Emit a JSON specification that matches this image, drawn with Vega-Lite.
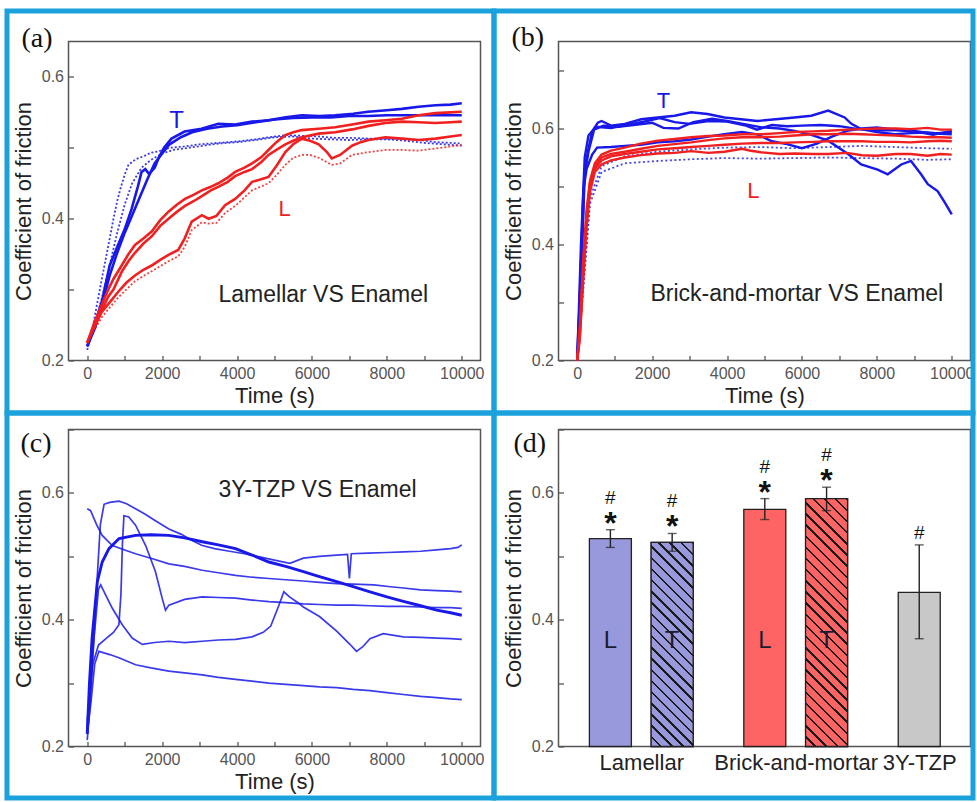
{
"$schema":"https://vega.github.io/schema/vega-lite/v6.json",
"background":"white",
"padding":{"left":3.5,"top":7.5,"right":0,"bottom":0},
"bounds":"flush",
"columns":2,
"spacing":{"row":69,"column":78},
"config":{
 "font":"Liberation Sans",
 "view":{"stroke":"#555","strokeWidth":1.5},
 "axis":{"labelFontSize":16,"labelColor":"#555","titleFontSize":22,"titleFontWeight":"normal","titleColor":"#222","domain":false,"grid":false,"tickColor":"#555","tickSize":-5,"tickWidth":1.3,"labelPadding":10,"labelFlush":false}
},
"datasets":{
"a":[
{"s":"T1","t":0,"v":0.215},{"s":"T1","t":100,"v":0.235},{"s":"T1","t":200,"v":0.262},{"s":"T1","t":300,"v":0.29},{"s":"T1","t":400,"v":0.318},{"s":"T1","t":500,"v":0.345},{"s":"T1","t":600,"v":0.372},{"s":"T1","t":700,"v":0.4},{"s":"T1","t":800,"v":0.425},{"s":"T1","t":900,"v":0.445},{"s":"T1","t":1000,"v":0.462},{"s":"T1","t":1100,"v":0.476},{"s":"T1","t":1300,"v":0.484},{"s":"T1","t":1500,"v":0.488},{"s":"T1","t":1700,"v":0.493},{"s":"T1","t":1900,"v":0.495},{"s":"T1","t":2200,"v":0.5},{"s":"T1","t":2600,"v":0.502},{"s":"T1","t":3000,"v":0.505},{"s":"T1","t":3500,"v":0.507},{"s":"T1","t":4000,"v":0.509},{"s":"T1","t":4500,"v":0.512},{"s":"T1","t":4850,"v":0.515},{"s":"T1","t":5300,"v":0.518},{"s":"T1","t":5700,"v":0.517},{"s":"T1","t":6200,"v":0.516},{"s":"T1","t":6600,"v":0.514},{"s":"T1","t":7100,"v":0.514},{"s":"T1","t":7500,"v":0.513},{"s":"T1","t":8000,"v":0.513},{"s":"T1","t":8400,"v":0.513},{"s":"T1","t":8900,"v":0.511},{"s":"T1","t":9300,"v":0.508},{"s":"T1","t":9700,"v":0.507},{"s":"T1","t":10000,"v":0.506},
{"s":"T2","t":0,"v":0.22},{"s":"T2","t":200,"v":0.25},{"s":"T2","t":400,"v":0.29},{"s":"T2","t":600,"v":0.335},{"s":"T2","t":800,"v":0.38},{"s":"T2","t":1000,"v":0.42},{"s":"T2","t":1200,"v":0.45},{"s":"T2","t":1450,"v":0.472},{"s":"T2","t":1700,"v":0.483},{"s":"T2","t":2000,"v":0.492},{"s":"T2","t":2300,"v":0.497},{"s":"T2","t":2700,"v":0.5},{"s":"T2","t":3100,"v":0.503},{"s":"T2","t":3500,"v":0.506},{"s":"T2","t":4000,"v":0.508},{"s":"T2","t":4500,"v":0.511},{"s":"T2","t":5000,"v":0.515},{"s":"T2","t":5500,"v":0.516},{"s":"T2","t":6000,"v":0.513},{"s":"T2","t":6500,"v":0.512},{"s":"T2","t":7000,"v":0.511},{"s":"T2","t":7500,"v":0.512},{"s":"T2","t":8000,"v":0.512},{"s":"T2","t":8500,"v":0.51},{"s":"T2","t":9000,"v":0.507},{"s":"T2","t":9500,"v":0.505},{"s":"T2","t":10000,"v":0.503},
{"s":"T3","t":0,"v":0.22},{"s":"T3","t":200,"v":0.25},{"s":"T3","t":400,"v":0.285},{"s":"T3","t":600,"v":0.334},{"s":"T3","t":800,"v":0.36},{"s":"T3","t":1000,"v":0.385},{"s":"T3","t":1185,"v":0.414},{"s":"T3","t":1350,"v":0.445},{"s":"T3","t":1450,"v":0.466},{"s":"T3","t":1550,"v":0.47},{"s":"T3","t":1650,"v":0.463},{"s":"T3","t":1800,"v":0.472},{"s":"T3","t":1900,"v":0.485},{"s":"T3","t":2050,"v":0.5},{"s":"T3","t":2250,"v":0.513},{"s":"T3","t":2600,"v":0.523},{"s":"T3","t":3050,"v":0.527},{"s":"T3","t":3500,"v":0.534},{"s":"T3","t":3950,"v":0.533},{"s":"T3","t":4400,"v":0.537},{"s":"T3","t":4840,"v":0.539},{"s":"T3","t":5300,"v":0.543},{"s":"T3","t":5730,"v":0.546},{"s":"T3","t":6200,"v":0.545},{"s":"T3","t":6620,"v":0.546},{"s":"T3","t":7100,"v":0.548},{"s":"T3","t":7500,"v":0.551},{"s":"T3","t":8000,"v":0.553},{"s":"T3","t":8400,"v":0.555},{"s":"T3","t":8850,"v":0.558},{"s":"T3","t":9300,"v":0.56},{"s":"T3","t":9700,"v":0.561},{"s":"T3","t":10000,"v":0.563},
{"s":"T4","t":0,"v":0.22},{"s":"T4","t":200,"v":0.245},{"s":"T4","t":400,"v":0.28},{"s":"T4","t":600,"v":0.32},{"s":"T4","t":800,"v":0.352},{"s":"T4","t":1000,"v":0.38},{"s":"T4","t":1200,"v":0.405},{"s":"T4","t":1400,"v":0.43},{"s":"T4","t":1600,"v":0.455},{"s":"T4","t":1800,"v":0.478},{"s":"T4","t":2000,"v":0.492},{"s":"T4","t":2200,"v":0.505},{"s":"T4","t":2500,"v":0.515},{"s":"T4","t":2800,"v":0.522},{"s":"T4","t":3200,"v":0.527},{"s":"T4","t":3600,"v":0.53},{"s":"T4","t":4000,"v":0.532},{"s":"T4","t":4500,"v":0.536},{"s":"T4","t":5000,"v":0.54},{"s":"T4","t":5500,"v":0.542},{"s":"T4","t":6000,"v":0.543},{"s":"T4","t":6500,"v":0.543},{"s":"T4","t":7000,"v":0.545},{"s":"T4","t":7500,"v":0.545},{"s":"T4","t":8000,"v":0.546},{"s":"T4","t":8500,"v":0.546},{"s":"T4","t":9000,"v":0.546},{"s":"T4","t":9500,"v":0.546},{"s":"T4","t":10000,"v":0.546},
{"s":"L1","t":0,"v":0.225},{"s":"L1","t":100,"v":0.24},{"s":"L1","t":200,"v":0.255},{"s":"L1","t":400,"v":0.28},{"s":"L1","t":560,"v":0.3},{"s":"L1","t":700,"v":0.315},{"s":"L1","t":920,"v":0.334},{"s":"L1","t":1100,"v":0.35},{"s":"L1","t":1275,"v":0.363},{"s":"L1","t":1500,"v":0.372},{"s":"L1","t":1720,"v":0.382},{"s":"L1","t":1950,"v":0.398},{"s":"L1","t":2170,"v":0.41},{"s":"L1","t":2400,"v":0.42},{"s":"L1","t":2610,"v":0.428},{"s":"L1","t":2850,"v":0.434},{"s":"L1","t":3060,"v":0.44},{"s":"L1","t":3300,"v":0.445},{"s":"L1","t":3500,"v":0.45},{"s":"L1","t":3750,"v":0.458},{"s":"L1","t":3950,"v":0.466},{"s":"L1","t":4200,"v":0.472},{"s":"L1","t":4400,"v":0.478},{"s":"L1","t":4650,"v":0.487},{"s":"L1","t":4840,"v":0.497},{"s":"L1","t":5050,"v":0.508},{"s":"L1","t":5290,"v":0.518},{"s":"L1","t":5500,"v":0.522},{"s":"L1","t":5730,"v":0.525},{"s":"L1","t":6180,"v":0.527},{"s":"L1","t":6620,"v":0.529},{"s":"L1","t":7070,"v":0.533},{"s":"L1","t":7510,"v":0.537},{"s":"L1","t":7960,"v":0.539},{"s":"L1","t":8400,"v":0.541},{"s":"L1","t":8850,"v":0.546},{"s":"L1","t":9300,"v":0.549},{"s":"L1","t":9700,"v":0.55},{"s":"L1","t":10000,"v":0.551},
{"s":"L2","t":0,"v":0.225},{"s":"L2","t":200,"v":0.25},{"s":"L2","t":400,"v":0.272},{"s":"L2","t":560,"v":0.29},{"s":"L2","t":700,"v":0.3},{"s":"L2","t":920,"v":0.325},{"s":"L2","t":1100,"v":0.34},{"s":"L2","t":1275,"v":0.352},{"s":"L2","t":1500,"v":0.365},{"s":"L2","t":1720,"v":0.375},{"s":"L2","t":1950,"v":0.39},{"s":"L2","t":2170,"v":0.4},{"s":"L2","t":2400,"v":0.41},{"s":"L2","t":2610,"v":0.418},{"s":"L2","t":2850,"v":0.425},{"s":"L2","t":3060,"v":0.432},{"s":"L2","t":3300,"v":0.44},{"s":"L2","t":3500,"v":0.445},{"s":"L2","t":3750,"v":0.452},{"s":"L2","t":3950,"v":0.46},{"s":"L2","t":4200,"v":0.466},{"s":"L2","t":4400,"v":0.47},{"s":"L2","t":4650,"v":0.48},{"s":"L2","t":4840,"v":0.49},{"s":"L2","t":5050,"v":0.497},{"s":"L2","t":5290,"v":0.505},{"s":"L2","t":5500,"v":0.51},{"s":"L2","t":5730,"v":0.515},{"s":"L2","t":6180,"v":0.52},{"s":"L2","t":6620,"v":0.522},{"s":"L2","t":7070,"v":0.526},{"s":"L2","t":7510,"v":0.531},{"s":"L2","t":7960,"v":0.535},{"s":"L2","t":8400,"v":0.537},{"s":"L2","t":8850,"v":0.536},{"s":"L2","t":9300,"v":0.535},{"s":"L2","t":9700,"v":0.536},{"s":"L2","t":10000,"v":0.537},
{"s":"L3","t":0,"v":0.225},{"s":"L3","t":200,"v":0.248},{"s":"L3","t":383,"v":0.268},{"s":"L3","t":600,"v":0.282},{"s":"L3","t":829,"v":0.297},{"s":"L3","t":1050,"v":0.31},{"s":"L3","t":1275,"v":0.32},{"s":"L3","t":1500,"v":0.328},{"s":"L3","t":1720,"v":0.334},{"s":"L3","t":1950,"v":0.342},{"s":"L3","t":2170,"v":0.349},{"s":"L3","t":2430,"v":0.356},{"s":"L3","t":2600,"v":0.372},{"s":"L3","t":2790,"v":0.396},{"s":"L3","t":3060,"v":0.405},{"s":"L3","t":3240,"v":0.4},{"s":"L3","t":3450,"v":0.404},{"s":"L3","t":3680,"v":0.419},{"s":"L3","t":3950,"v":0.428},{"s":"L3","t":4200,"v":0.44},{"s":"L3","t":4400,"v":0.452},{"s":"L3","t":4600,"v":0.455},{"s":"L3","t":4840,"v":0.459},{"s":"L3","t":5060,"v":0.475},{"s":"L3","t":5290,"v":0.494},{"s":"L3","t":5500,"v":0.505},{"s":"L3","t":5730,"v":0.513},{"s":"L3","t":5950,"v":0.51},{"s":"L3","t":6180,"v":0.505},{"s":"L3","t":6400,"v":0.494},{"s":"L3","t":6530,"v":0.485},{"s":"L3","t":6750,"v":0.49},{"s":"L3","t":7070,"v":0.503},{"s":"L3","t":7300,"v":0.508},{"s":"L3","t":7510,"v":0.511},{"s":"L3","t":7960,"v":0.515},{"s":"L3","t":8400,"v":0.513},{"s":"L3","t":8850,"v":0.511},{"s":"L3","t":9300,"v":0.513},{"s":"L3","t":9700,"v":0.516},{"s":"L3","t":10000,"v":0.518},
{"s":"L4","t":0,"v":0.22},{"s":"L4","t":200,"v":0.244},{"s":"L4","t":400,"v":0.262},{"s":"L4","t":829,"v":0.289},{"s":"L4","t":1275,"v":0.312},{"s":"L4","t":1720,"v":0.326},{"s":"L4","t":2170,"v":0.34},{"s":"L4","t":2430,"v":0.347},{"s":"L4","t":2600,"v":0.36},{"s":"L4","t":2790,"v":0.384},{"s":"L4","t":3060,"v":0.395},{"s":"L4","t":3240,"v":0.393},{"s":"L4","t":3450,"v":0.394},{"s":"L4","t":3680,"v":0.408},{"s":"L4","t":3950,"v":0.418},{"s":"L4","t":4400,"v":0.44},{"s":"L4","t":4840,"v":0.45},{"s":"L4","t":5060,"v":0.462},{"s":"L4","t":5290,"v":0.476},{"s":"L4","t":5500,"v":0.486},{"s":"L4","t":5730,"v":0.49},{"s":"L4","t":5950,"v":0.49},{"s":"L4","t":6180,"v":0.486},{"s":"L4","t":6530,"v":0.476},{"s":"L4","t":6750,"v":0.478},{"s":"L4","t":7070,"v":0.49},{"s":"L4","t":7510,"v":0.494},{"s":"L4","t":7960,"v":0.497},{"s":"L4","t":8400,"v":0.497},{"s":"L4","t":8850,"v":0.496},{"s":"L4","t":9300,"v":0.499},{"s":"L4","t":9700,"v":0.502},{"s":"L4","t":10000,"v":0.504}
],
"b":[
{"s":"T1","t":0,"v":0.2},{"s":"T1","t":50,"v":0.27},{"s":"T1","t":100,"v":0.37},{"s":"T1","t":150,"v":0.47},{"s":"T1","t":200,"v":0.53},{"s":"T1","t":300,"v":0.565},{"s":"T1","t":400,"v":0.595},{"s":"T1","t":550,"v":0.61},{"s":"T1","t":650,"v":0.613},{"s":"T1","t":900,"v":0.605},{"s":"T1","t":1270,"v":0.608},{"s":"T1","t":1710,"v":0.616},{"s":"T1","t":2150,"v":0.619},{"s":"T1","t":2600,"v":0.622},{"s":"T1","t":3040,"v":0.628},{"s":"T1","t":3480,"v":0.625},{"s":"T1","t":3930,"v":0.619},{"s":"T1","t":4370,"v":0.616},{"s":"T1","t":4810,"v":0.613},{"s":"T1","t":5300,"v":0.616},{"s":"T1","t":5800,"v":0.619},{"s":"T1","t":6250,"v":0.622},{"s":"T1","t":6700,"v":0.631},{"s":"T1","t":7140,"v":0.619},{"s":"T1","t":7320,"v":0.608},{"s":"T1","t":7580,"v":0.599},{"s":"T1","t":8000,"v":0.594},{"s":"T1","t":8470,"v":0.59},{"s":"T1","t":8900,"v":0.592},{"s":"T1","t":9350,"v":0.593},{"s":"T1","t":9700,"v":0.591},{"s":"T1","t":10000,"v":0.59},
{"s":"T2","t":0,"v":0.2},{"s":"T2","t":50,"v":0.25},{"s":"T2","t":100,"v":0.33},{"s":"T2","t":150,"v":0.43},{"s":"T2","t":200,"v":0.52},{"s":"T2","t":300,"v":0.56},{"s":"T2","t":450,"v":0.598},{"s":"T2","t":700,"v":0.605},{"s":"T2","t":1100,"v":0.603},{"s":"T2","t":1500,"v":0.606},{"s":"T2","t":2000,"v":0.61},{"s":"T2","t":2300,"v":0.601},{"s":"T2","t":2700,"v":0.6},{"s":"T2","t":3100,"v":0.611},{"s":"T2","t":3600,"v":0.617},{"s":"T2","t":4000,"v":0.613},{"s":"T2","t":4500,"v":0.607},{"s":"T2","t":4920,"v":0.602},{"s":"T2","t":5400,"v":0.6},{"s":"T2","t":5800,"v":0.596},{"s":"T2","t":6250,"v":0.589},{"s":"T2","t":6700,"v":0.579},{"s":"T2","t":7230,"v":0.556},{"s":"T2","t":7580,"v":0.538},{"s":"T2","t":8020,"v":0.529},{"s":"T2","t":8290,"v":0.521},{"s":"T2","t":8650,"v":0.538},{"s":"T2","t":8910,"v":0.544},{"s":"T2","t":9180,"v":0.521},{"s":"T2","t":9360,"v":0.504},{"s":"T2","t":9620,"v":0.492},{"s":"T2","t":9800,"v":0.474},{"s":"T2","t":10000,"v":0.452},
{"s":"T3","t":0,"v":0.21},{"s":"T3","t":100,"v":0.35},{"s":"T3","t":180,"v":0.5},{"s":"T3","t":250,"v":0.53},{"s":"T3","t":400,"v":0.555},{"s":"T3","t":530,"v":0.567},{"s":"T3","t":900,"v":0.568},{"s":"T3","t":1270,"v":0.57},{"s":"T3","t":1700,"v":0.572},{"s":"T3","t":2150,"v":0.576},{"s":"T3","t":2600,"v":0.578},{"s":"T3","t":3040,"v":0.581},{"s":"T3","t":3500,"v":0.586},{"s":"T3","t":3930,"v":0.59},{"s":"T3","t":4400,"v":0.594},{"s":"T3","t":4800,"v":0.59},{"s":"T3","t":5200,"v":0.578},{"s":"T3","t":5600,"v":0.573},{"s":"T3","t":6000,"v":0.566},{"s":"T3","t":6400,"v":0.574},{"s":"T3","t":6800,"v":0.586},{"s":"T3","t":7200,"v":0.596},{"s":"T3","t":7600,"v":0.6},{"s":"T3","t":8000,"v":0.602},{"s":"T3","t":8500,"v":0.598},{"s":"T3","t":9000,"v":0.596},{"s":"T3","t":9500,"v":0.591},{"s":"T3","t":10000,"v":0.594},
{"s":"T4","t":0,"v":0.2},{"s":"T4","t":100,"v":0.4},{"s":"T4","t":200,"v":0.55},{"s":"T4","t":300,"v":0.588},{"s":"T4","t":500,"v":0.603},{"s":"T4","t":900,"v":0.601},{"s":"T4","t":1400,"v":0.607},{"s":"T4","t":1800,"v":0.612},{"s":"T4","t":2200,"v":0.618},{"s":"T4","t":2600,"v":0.611},{"s":"T4","t":3000,"v":0.608},{"s":"T4","t":3500,"v":0.613},{"s":"T4","t":4000,"v":0.612},{"s":"T4","t":4500,"v":0.605},{"s":"T4","t":4800,"v":0.598},{"s":"T4","t":5200,"v":0.606},{"s":"T4","t":5600,"v":0.604},{"s":"T4","t":6000,"v":0.605},{"s":"T4","t":6500,"v":0.606},{"s":"T4","t":7000,"v":0.604},{"s":"T4","t":7500,"v":0.599},{"s":"T4","t":8000,"v":0.597},{"s":"T4","t":8500,"v":0.597},{"s":"T4","t":9000,"v":0.595},{"s":"T4","t":9500,"v":0.589},{"s":"T4","t":10000,"v":0.596},
{"s":"L1","t":0,"v":0.205},{"s":"L1","t":70,"v":0.26},{"s":"L1","t":160,"v":0.375},{"s":"L1","t":250,"v":0.46},{"s":"L1","t":340,"v":0.51},{"s":"L1","t":470,"v":0.54},{"s":"L1","t":650,"v":0.555},{"s":"L1","t":900,"v":0.562},{"s":"L1","t":1270,"v":0.567},{"s":"L1","t":1700,"v":0.574},{"s":"L1","t":2150,"v":0.579},{"s":"L1","t":2600,"v":0.582},{"s":"L1","t":3040,"v":0.585},{"s":"L1","t":3500,"v":0.587},{"s":"L1","t":3930,"v":0.588},{"s":"L1","t":4400,"v":0.59},{"s":"L1","t":4900,"v":0.59},{"s":"L1","t":5400,"v":0.592},{"s":"L1","t":5800,"v":0.594},{"s":"L1","t":6300,"v":0.595},{"s":"L1","t":6700,"v":0.596},{"s":"L1","t":7200,"v":0.598},{"s":"L1","t":7600,"v":0.599},{"s":"L1","t":8000,"v":0.6},{"s":"L1","t":8500,"v":0.6},{"s":"L1","t":8900,"v":0.599},{"s":"L1","t":9350,"v":0.601},{"s":"L1","t":9700,"v":0.598},{"s":"L1","t":10000,"v":0.598},
{"s":"L2","t":0,"v":0.2},{"s":"L2","t":70,"v":0.25},{"s":"L2","t":160,"v":0.36},{"s":"L2","t":250,"v":0.45},{"s":"L2","t":340,"v":0.505},{"s":"L2","t":470,"v":0.535},{"s":"L2","t":650,"v":0.55},{"s":"L2","t":900,"v":0.556},{"s":"L2","t":1270,"v":0.56},{"s":"L2","t":1700,"v":0.565},{"s":"L2","t":2150,"v":0.57},{"s":"L2","t":2600,"v":0.573},{"s":"L2","t":3040,"v":0.576},{"s":"L2","t":3500,"v":0.58},{"s":"L2","t":3930,"v":0.583},{"s":"L2","t":4400,"v":0.585},{"s":"L2","t":4900,"v":0.585},{"s":"L2","t":5400,"v":0.586},{"s":"L2","t":5800,"v":0.588},{"s":"L2","t":6300,"v":0.59},{"s":"L2","t":6700,"v":0.59},{"s":"L2","t":7200,"v":0.591},{"s":"L2","t":7600,"v":0.59},{"s":"L2","t":8000,"v":0.589},{"s":"L2","t":8500,"v":0.588},{"s":"L2","t":8900,"v":0.586},{"s":"L2","t":9350,"v":0.585},{"s":"L2","t":9700,"v":0.585},{"s":"L2","t":10000,"v":0.584},
{"s":"L3","t":0,"v":0.2},{"s":"L3","t":70,"v":0.24},{"s":"L3","t":160,"v":0.35},{"s":"L3","t":250,"v":0.44},{"s":"L3","t":340,"v":0.5},{"s":"L3","t":470,"v":0.53},{"s":"L3","t":650,"v":0.545},{"s":"L3","t":900,"v":0.552},{"s":"L3","t":1270,"v":0.556},{"s":"L3","t":1700,"v":0.56},{"s":"L3","t":2150,"v":0.564},{"s":"L3","t":2600,"v":0.566},{"s":"L3","t":3040,"v":0.568},{"s":"L3","t":3500,"v":0.57},{"s":"L3","t":3930,"v":0.572},{"s":"L3","t":4400,"v":0.574},{"s":"L3","t":4900,"v":0.575},{"s":"L3","t":5400,"v":0.575},{"s":"L3","t":5800,"v":0.576},{"s":"L3","t":6300,"v":0.577},{"s":"L3","t":6700,"v":0.578},{"s":"L3","t":7200,"v":0.578},{"s":"L3","t":7600,"v":0.578},{"s":"L3","t":8000,"v":0.577},{"s":"L3","t":8500,"v":0.577},{"s":"L3","t":8900,"v":0.576},{"s":"L3","t":9350,"v":0.578},{"s":"L3","t":9700,"v":0.579},{"s":"L3","t":10000,"v":0.578},
{"s":"L4","t":0,"v":0.2},{"s":"L4","t":70,"v":0.24},{"s":"L4","t":160,"v":0.34},{"s":"L4","t":250,"v":0.43},{"s":"L4","t":340,"v":0.49},{"s":"L4","t":470,"v":0.525},{"s":"L4","t":650,"v":0.538},{"s":"L4","t":900,"v":0.545},{"s":"L4","t":1270,"v":0.55},{"s":"L4","t":1700,"v":0.554},{"s":"L4","t":2150,"v":0.557},{"s":"L4","t":2600,"v":0.558},{"s":"L4","t":3040,"v":0.561},{"s":"L4","t":3500,"v":0.558},{"s":"L4","t":3930,"v":0.56},{"s":"L4","t":4400,"v":0.565},{"s":"L4","t":4600,"v":0.562},{"s":"L4","t":4900,"v":0.559},{"s":"L4","t":5400,"v":0.556},{"s":"L4","t":5800,"v":0.557},{"s":"L4","t":6300,"v":0.556},{"s":"L4","t":6700,"v":0.556},{"s":"L4","t":7200,"v":0.558},{"s":"L4","t":7600,"v":0.554},{"s":"L4","t":8000,"v":0.553},{"s":"L4","t":8500,"v":0.556},{"s":"L4","t":8900,"v":0.556},{"s":"L4","t":9350,"v":0.553},{"s":"L4","t":9700,"v":0.556},{"s":"L4","t":10000,"v":0.555},
{"s":"L5","t":0,"v":0.2},{"s":"L5","t":160,"v":0.33},{"s":"L5","t":340,"v":0.48},{"s":"L5","t":650,"v":0.535},{"s":"L5","t":1270,"v":0.552},{"s":"L5","t":2150,"v":0.56},{"s":"L5","t":3040,"v":0.564},{"s":"L5","t":3930,"v":0.567},{"s":"L5","t":4900,"v":0.568},{"s":"L5","t":5800,"v":0.566},{"s":"L5","t":6700,"v":0.568},{"s":"L5","t":7600,"v":0.57},{"s":"L5","t":8500,"v":0.568},{"s":"L5","t":9350,"v":0.566},{"s":"L5","t":10000,"v":0.565},
{"s":"L6","t":0,"v":0.2},{"s":"L6","t":160,"v":0.32},{"s":"L6","t":340,"v":0.47},{"s":"L6","t":650,"v":0.525},{"s":"L6","t":1270,"v":0.54},{"s":"L6","t":2150,"v":0.544},{"s":"L6","t":3040,"v":0.547},{"s":"L6","t":3930,"v":0.549},{"s":"L6","t":4900,"v":0.548},{"s":"L6","t":5800,"v":0.549},{"s":"L6","t":6700,"v":0.55},{"s":"L6","t":7600,"v":0.549},{"s":"L6","t":8500,"v":0.548},{"s":"L6","t":9350,"v":0.546},{"s":"L6","t":10000,"v":0.547}
],
"c":[
{"s":"C1","t":0,"v":0.575},{"s":"C1","t":90,"v":0.572},{"s":"C1","t":250,"v":0.55},{"s":"C1","t":400,"v":0.533},{"s":"C1","t":670,"v":0.517},{"s":"C1","t":1000,"v":0.51},{"s":"C1","t":1290,"v":0.504},{"s":"C1","t":1700,"v":0.497},{"s":"C1","t":2180,"v":0.488},{"s":"C1","t":2600,"v":0.484},{"s":"C1","t":3070,"v":0.478},{"s":"C1","t":3500,"v":0.474},{"s":"C1","t":3960,"v":0.47},{"s":"C1","t":4400,"v":0.467},{"s":"C1","t":4850,"v":0.465},{"s":"C1","t":5300,"v":0.463},{"s":"C1","t":5770,"v":0.461},{"s":"C1","t":6200,"v":0.459},{"s":"C1","t":6660,"v":0.457},{"s":"C1","t":7100,"v":0.456},{"s":"C1","t":7650,"v":0.455},{"s":"C1","t":8100,"v":0.452},{"s":"C1","t":8440,"v":0.45},{"s":"C1","t":8900,"v":0.447},{"s":"C1","t":9330,"v":0.446},{"s":"C1","t":9700,"v":0.445},{"s":"C1","t":10000,"v":0.444},
{"s":"C2","t":0,"v":0.22},{"s":"C2","t":60,"v":0.3},{"s":"C2","t":130,"v":0.371},{"s":"C2","t":270,"v":0.46},{"s":"C2","t":400,"v":0.491},{"s":"C2","t":580,"v":0.512},{"s":"C2","t":850,"v":0.528},{"s":"C2","t":1290,"v":0.533},{"s":"C2","t":1700,"v":0.534},{"s":"C2","t":2180,"v":0.533},{"s":"C2","t":2600,"v":0.529},{"s":"C2","t":3070,"v":0.523},{"s":"C2","t":3500,"v":0.518},{"s":"C2","t":3960,"v":0.512},{"s":"C2","t":4400,"v":0.502},{"s":"C2","t":4850,"v":0.491},{"s":"C2","t":5300,"v":0.484},{"s":"C2","t":5770,"v":0.476},{"s":"C2","t":6200,"v":0.468},{"s":"C2","t":6660,"v":0.46},{"s":"C2","t":7100,"v":0.452},{"s":"C2","t":7550,"v":0.444},{"s":"C2","t":8000,"v":0.436},{"s":"C2","t":8440,"v":0.429},{"s":"C2","t":8900,"v":0.422},{"s":"C2","t":9330,"v":0.415},{"s":"C2","t":9700,"v":0.411},{"s":"C2","t":10000,"v":0.407},
{"s":"C3","t":0,"v":0.21},{"s":"C3","t":80,"v":0.27},{"s":"C3","t":170,"v":0.36},{"s":"C3","t":260,"v":0.46},{"s":"C3","t":350,"v":0.55},{"s":"C3","t":450,"v":0.582},{"s":"C3","t":600,"v":0.585},{"s":"C3","t":850,"v":0.587},{"s":"C3","t":1050,"v":0.583},{"s":"C3","t":1290,"v":0.575},{"s":"C3","t":1560,"v":0.566},{"s":"C3","t":1820,"v":0.556},{"s":"C3","t":2180,"v":0.543},{"s":"C3","t":2500,"v":0.535},{"s":"C3","t":2800,"v":0.525},{"s":"C3","t":3070,"v":0.517},{"s":"C3","t":3400,"v":0.512},{"s":"C3","t":3800,"v":0.508},{"s":"C3","t":4200,"v":0.504},{"s":"C3","t":4600,"v":0.499},{"s":"C3","t":5000,"v":0.494},{"s":"C3","t":5410,"v":0.489},{"s":"C3","t":5770,"v":0.497},{"s":"C3","t":6200,"v":0.5},{"s":"C3","t":6660,"v":0.502},{"s":"C3","t":6950,"v":0.503},{"s":"C3","t":7000,"v":0.465},{"s":"C3","t":7050,"v":0.504},{"s":"C3","t":7500,"v":0.505},{"s":"C3","t":8000,"v":0.506},{"s":"C3","t":8440,"v":0.507},{"s":"C3","t":8900,"v":0.508},{"s":"C3","t":9330,"v":0.51},{"s":"C3","t":9700,"v":0.512},{"s":"C3","t":9900,"v":0.514},{"s":"C3","t":10000,"v":0.518},
{"s":"C4","t":0,"v":0.24},{"s":"C4","t":150,"v":0.33},{"s":"C4","t":300,"v":0.36},{"s":"C4","t":500,"v":0.37},{"s":"C4","t":700,"v":0.38},{"s":"C4","t":846,"v":0.392},{"s":"C4","t":900,"v":0.44},{"s":"C4","t":940,"v":0.52},{"s":"C4","t":980,"v":0.564},{"s":"C4","t":1110,"v":0.562},{"s":"C4","t":1290,"v":0.549},{"s":"C4","t":1560,"v":0.517},{"s":"C4","t":1820,"v":0.476},{"s":"C4","t":2000,"v":0.434},{"s":"C4","t":2090,"v":0.415},{"s":"C4","t":2180,"v":0.423},{"s":"C4","t":2600,"v":0.432},{"s":"C4","t":3070,"v":0.436},{"s":"C4","t":3500,"v":0.435},{"s":"C4","t":3960,"v":0.434},{"s":"C4","t":4400,"v":0.431},{"s":"C4","t":4850,"v":0.4285},{"s":"C4","t":5300,"v":0.427},{"s":"C4","t":5770,"v":0.425},{"s":"C4","t":6200,"v":0.424},{"s":"C4","t":6660,"v":0.423},{"s":"C4","t":7100,"v":0.423},{"s":"C4","t":7550,"v":0.422},{"s":"C4","t":8000,"v":0.421},{"s":"C4","t":8440,"v":0.421},{"s":"C4","t":8900,"v":0.42},{"s":"C4","t":9330,"v":0.419},{"s":"C4","t":9700,"v":0.419},{"s":"C4","t":10000,"v":0.418},
{"s":"C5","t":0,"v":0.23},{"s":"C5","t":150,"v":0.35},{"s":"C5","t":300,"v":0.448},{"s":"C5","t":360,"v":0.455},{"s":"C5","t":490,"v":0.439},{"s":"C5","t":670,"v":0.418},{"s":"C5","t":935,"v":0.392},{"s":"C5","t":1200,"v":0.371},{"s":"C5","t":1470,"v":0.361},{"s":"C5","t":1800,"v":0.364},{"s":"C5","t":2180,"v":0.366},{"s":"C5","t":2600,"v":0.364},{"s":"C5","t":3070,"v":0.366},{"s":"C5","t":3500,"v":0.368},{"s":"C5","t":3960,"v":0.369},{"s":"C5","t":4400,"v":0.373},{"s":"C5","t":4700,"v":0.38},{"s":"C5","t":4900,"v":0.39},{"s":"C5","t":5100,"v":0.42},{"s":"C5","t":5250,"v":0.444},{"s":"C5","t":5400,"v":0.436},{"s":"C5","t":5600,"v":0.428},{"s":"C5","t":5770,"v":0.42},{"s":"C5","t":6200,"v":0.405},{"s":"C5","t":6660,"v":0.382},{"s":"C5","t":7000,"v":0.362},{"s":"C5","t":7190,"v":0.35},{"s":"C5","t":7350,"v":0.357},{"s":"C5","t":7550,"v":0.37},{"s":"C5","t":7900,"v":0.378},{"s":"C5","t":8440,"v":0.373},{"s":"C5","t":8900,"v":0.372},{"s":"C5","t":9330,"v":0.371},{"s":"C5","t":9700,"v":0.37},{"s":"C5","t":10000,"v":0.369},
{"s":"C6","t":0,"v":0.22},{"s":"C6","t":100,"v":0.27},{"s":"C6","t":200,"v":0.33},{"s":"C6","t":312,"v":0.35},{"s":"C6","t":600,"v":0.345},{"s":"C6","t":846,"v":0.34},{"s":"C6","t":1290,"v":0.329},{"s":"C6","t":1700,"v":0.324},{"s":"C6","t":2180,"v":0.319},{"s":"C6","t":2600,"v":0.316},{"s":"C6","t":3070,"v":0.313},{"s":"C6","t":3500,"v":0.309},{"s":"C6","t":3960,"v":0.306},{"s":"C6","t":4400,"v":0.303},{"s":"C6","t":4850,"v":0.3},{"s":"C6","t":5300,"v":0.298},{"s":"C6","t":5770,"v":0.296},{"s":"C6","t":6200,"v":0.294},{"s":"C6","t":6660,"v":0.293},{"s":"C6","t":7100,"v":0.29},{"s":"C6","t":7550,"v":0.288},{"s":"C6","t":8000,"v":0.285},{"s":"C6","t":8440,"v":0.282},{"s":"C6","t":8900,"v":0.279},{"s":"C6","t":9330,"v":0.277},{"s":"C6","t":9700,"v":0.275},{"s":"C6","t":10000,"v":0.274}
],
"bars":[
{"group":"Lamellar","dir":"L","pos":1,"mean":0.528,"lo":0.514,"hi":0.542,"sig":"#*"},
{"group":"Lamellar","dir":"T","pos":2,"mean":0.522,"lo":0.508,"hi":0.536,"sig":"#*"},
{"group":"Brick-and-mortar","dir":"L","pos":3.5,"mean":0.574,"lo":0.558,"hi":0.591,"sig":"#*"},
{"group":"Brick-and-mortar","dir":"T","pos":4.5,"mean":0.591,"lo":0.572,"hi":0.609,"sig":"#*"},
{"group":"3Y-TZP","dir":"","pos":6,"mean":0.443,"lo":0.37,"hi":0.518,"sig":"#"}
]
},
"concat":[
{
 "width":412,"height":319,
 "data":{"name":"a"},
 "layer":[
  {"data":{"values":[{}]},"mark":{"type":"rect","fill":null,"stroke":"#1BA1DB","strokeWidth":5},
   "encoding":{"x":{"datum":-2142,"type":"quantitative"},"x2":{"datum":10860},"y":{"datum":0.69304,"type":"quantitative"},"y2":{"datum":0.12594}}},
  {"transform":[{"filter":"indexof(['T1','T2','L4'], datum.s) >= 0"}],
   "mark":{"type":"line","strokeWidth":1.8,"strokeDash":[2,2],"opacity":0.85},
   "encoding":{
    "x":{"field":"t","type":"quantitative","scale":{"domain":[-500,10500],"nice":false,"zero":false},"axis":{"title":"Time (s)","values":[0,1000,2000,3000,4000,5000,6000,7000,8000,9000,10000],"format":"d","labelExpr":"datum.value % 2000 === 0 ? datum.label : ''","titlePadding":4}},
    "y":{"field":"v","type":"quantitative","scale":{"domain":[0.2,0.65],"nice":false,"zero":false},"axis":{"title":"Coefficient of friction","values":[0.2,0.3,0.4,0.5,0.6],"labelExpr":"round(datum.value*10) % 2 === 0 ? format(datum.value, '.1f') : ''","titlePadding":6}},
    "color":{"field":"s","type":"nominal","scale":{"domain":["T1","T2","T3","T4","L1","L2","L3","L4"],"range":["#1818E8","#1818E8","#1818E8","#1818E8","#F02020","#F02020","#F02020","#F02020"]},"legend":null}}},
  {"transform":[{"filter":"indexof(['T1','T2','L4'], datum.s) < 0"}],
   "mark":{"type":"line","strokeWidth":2.6},
   "encoding":{
    "x":{"field":"t","type":"quantitative","scale":{"domain":[-500,10500],"nice":false,"zero":false},"axis":{"title":"Time (s)","values":[0,1000,2000,3000,4000,5000,6000,7000,8000,9000,10000],"format":"d","labelExpr":"datum.value % 2000 === 0 ? datum.label : ''","titlePadding":4}},
    "y":{"field":"v","type":"quantitative","scale":{"domain":[0.2,0.65],"nice":false,"zero":false},"axis":{"title":"Coefficient of friction","values":[0.2,0.3,0.4,0.5,0.6],"labelExpr":"round(datum.value*10) % 2 === 0 ? format(datum.value, '.1f') : ''","titlePadding":6}},
    "color":{"field":"s","type":"nominal","scale":{"domain":["T1","T2","T3","T4","L1","L2","L3","L4"],"range":["#1818E8","#1818E8","#1818E8","#1818E8","#F02020","#F02020","#F02020","#F02020"]},"legend":null}}},
  {"data":{"values":[{}]},"mark":{"type":"text","text":"(a)","font":"Liberation Serif","fontSize":28,"align":"left","baseline":"middle","color":"#111"},
   "encoding":{"x":{"datum":-1755,"type":"quantitative"},"y":{"datum":0.6542,"type":"quantitative"}}},
  {"data":{"values":[{}]},"mark":{"type":"text","text":"Lamellar VS Enamel","fontSize":23,"align":"left","baseline":"middle","color":"#222"},
   "encoding":{"x":{"datum":3505,"type":"quantitative"},"y":{"datum":0.2931,"type":"quantitative"}}},
  {"data":{"values":[{}]},"mark":{"type":"text","text":"T","fontSize":24,"align":"center","baseline":"middle","color":"#1818E8"},
   "encoding":{"x":{"datum":2383,"type":"quantitative"},"y":{"datum":0.5379,"type":"quantitative"}}},
  {"data":{"values":[{}]},"mark":{"type":"text","text":"L","fontSize":22,"align":"center","baseline":"middle","color":"#F02020"},
   "encoding":{"x":{"datum":5267,"type":"quantitative"},"y":{"datum":0.4144,"type":"quantitative"}}}
 ]
},
{
 "width":412,"height":319,
 "data":{"name":"b"},
 "layer":[
  {"data":{"values":[{}]},"mark":{"type":"rect","fill":null,"stroke":"#1BA1DB","strokeWidth":5},
   "encoding":{"x":{"datum":-2222,"type":"quantitative"},"x2":{"datum":10567},"y":{"datum":0.80259,"type":"quantitative"},"y2":{"datum":0.10948}}},
  {"transform":[{"filter":"indexof(['L5','L6'], datum.s) >= 0"}],
   "mark":{"type":"line","strokeWidth":1.8,"strokeDash":[2,2.5],"opacity":0.8},
   "encoding":{
    "x":{"field":"t","type":"quantitative","scale":{"domain":[-500,10500],"nice":false,"zero":false},"axis":{"title":"Time (s)","values":[0,1000,2000,3000,4000,5000,6000,7000,8000,9000,10000],"format":"d","labelExpr":"datum.value % 2000 === 0 ? datum.label : ''","titlePadding":4}},
    "y":{"field":"v","type":"quantitative","scale":{"domain":[0.2,0.75],"nice":false,"zero":false},"axis":{"title":"Coefficient of friction","values":[0.2,0.3,0.4,0.5,0.6,0.7],"labelExpr":"round(datum.value*10) % 2 === 0 ? format(datum.value, '.1f') : ''","titlePadding":6}},
    "color":{"field":"s","type":"nominal","scale":{"domain":["T1","T2","T3","T4","L1","L2","L3","L4","L5","L6"],"range":["#1818E8","#1818E8","#1818E8","#1818E8","#F02020","#F02020","#F02020","#F02020","#F02020","#F02020"]},"legend":null}}},
  {"transform":[{"filter":"indexof(['L5','L6'], datum.s) < 0"}],
   "mark":{"type":"line","strokeWidth":2.4},
   "encoding":{
    "x":{"field":"t","type":"quantitative","scale":{"domain":[-500,10500],"nice":false,"zero":false},"axis":{"title":"Time (s)","values":[0,1000,2000,3000,4000,5000,6000,7000,8000,9000,10000],"format":"d","labelExpr":"datum.value % 2000 === 0 ? datum.label : ''","titlePadding":4}},
    "y":{"field":"v","type":"quantitative","scale":{"domain":[0.2,0.75],"nice":false,"zero":false},"axis":{"title":"Coefficient of friction","values":[0.2,0.3,0.4,0.5,0.6,0.7],"labelExpr":"round(datum.value*10) % 2 === 0 ? format(datum.value, '.1f') : ''","titlePadding":6}},
    "color":{"field":"s","type":"nominal","scale":{"domain":["T1","T2","T3","T4","L1","L2","L3","L4","L5","L6"],"range":["#1818E8","#1818E8","#1818E8","#1818E8","#F02020","#F02020","#F02020","#F02020","#F02020","#F02020"]},"legend":null}}},
  {"data":{"values":[{}]},"mark":{"type":"text","text":"(b)","font":"Liberation Serif","fontSize":28,"align":"left","baseline":"middle","color":"#111"},
   "encoding":{"x":{"datum":-1755,"type":"quantitative"},"y":{"datum":0.7552,"type":"quantitative"}}},
  {"data":{"values":[{}]},"mark":{"type":"text","text":"Brick-and-mortar VS Enamel","fontSize":23,"align":"left","baseline":"middle","color":"#222"},
   "encoding":{"x":{"datum":1956,"type":"quantitative"},"y":{"datum":0.3138,"type":"quantitative"}}},
  {"data":{"values":[{}]},"mark":{"type":"text","text":"T","fontSize":22,"align":"center","baseline":"middle","color":"#1818E8"},
   "encoding":{"x":{"datum":2303,"type":"quantitative"},"y":{"datum":0.6466,"type":"quantitative"}}},
  {"data":{"values":[{}]},"mark":{"type":"text","text":"L","fontSize":22,"align":"center","baseline":"middle","color":"#F02020"},
   "encoding":{"x":{"datum":4706,"type":"quantitative"},"y":{"datum":0.4931,"type":"quantitative"}}}
 ]
},
{
 "width":412,"height":317,
 "data":{"name":"c"},
 "layer":[
  {"data":{"values":[{}]},"mark":{"type":"rect","fill":null,"stroke":"#1BA1DB","strokeWidth":5},
   "encoding":{"x":{"datum":-2142,"type":"quantitative"},"x2":{"datum":10860},"y":{"datum":0.72603,"type":"quantitative"},"y2":{"datum":0.11877}}},
  {"transform":[{"filter":"datum.s !== 'C2'"}],
   "mark":{"type":"line","strokeWidth":1.7,"color":"#1818E8","opacity":0.85},
   "encoding":{
    "x":{"field":"t","type":"quantitative","scale":{"domain":[-500,10500],"nice":false,"zero":false},"axis":{"title":"Time (s)","values":[0,1000,2000,3000,4000,5000,6000,7000,8000,9000,10000],"format":"d","labelExpr":"datum.value % 2000 === 0 ? datum.label : ''","titlePadding":4}},
    "y":{"field":"v","type":"quantitative","scale":{"domain":[0.2,0.7],"nice":false,"zero":false},"axis":{"title":"Coefficient of friction","values":[0.2,0.3,0.4,0.5,0.6,0.7],"labelExpr":"round(datum.value*10) % 2 === 0 ? format(datum.value, '.1f') : ''","titlePadding":6}},
    "detail":{"field":"s","type":"nominal"}}},
  {"transform":[{"filter":"datum.s === 'C2'"}],
   "mark":{"type":"line","strokeWidth":2.9,"color":"#1818E8"},
   "encoding":{
    "x":{"field":"t","type":"quantitative","scale":{"domain":[-500,10500],"nice":false,"zero":false},"axis":{"title":"Time (s)","values":[0,1000,2000,3000,4000,5000,6000,7000,8000,9000,10000],"format":"d","labelExpr":"datum.value % 2000 === 0 ? datum.label : ''","titlePadding":4}},
    "y":{"field":"v","type":"quantitative","scale":{"domain":[0.2,0.7],"nice":false,"zero":false},"axis":{"title":"Coefficient of friction","values":[0.2,0.3,0.4,0.5,0.6,0.7],"labelExpr":"round(datum.value*10) % 2 === 0 ? format(datum.value, '.1f') : ''","titlePadding":6}}}},
  {"data":{"values":[{}]},"mark":{"type":"text","text":"(c)","font":"Liberation Serif","fontSize":28,"align":"left","baseline":"middle","color":"#111"},
   "encoding":{"x":{"datum":-1782,"type":"quantitative"},"y":{"datum":0.6779,"type":"quantitative"}}},
  {"data":{"values":[{}]},"mark":{"type":"text","text":"3Y-TZP VS Enamel","fontSize":23,"align":"left","baseline":"middle","color":"#222"},
   "encoding":{"x":{"datum":3505,"type":"quantitative"},"y":{"datum":0.6038,"type":"quantitative"}}}
 ]
},
{
 "width":412,"height":317,
 "data":{"name":"bars"},
 "layer":[
  {"data":{"values":[{}]},"mark":{"type":"rect","fill":null,"stroke":"#1BA1DB","strokeWidth":5},
   "encoding":{"x":{"datum":-0.8842,"type":"quantitative"},"x2":{"datum":6.8704},"y":{"datum":0.72603,"type":"quantitative"},"y2":{"datum":0.11877}}},
  {"mark":{"type":"bar","width":42,"stroke":"#222","strokeWidth":1.3},
   "encoding":{
    "x":{"field":"pos","type":"quantitative","scale":{"domain":[0.16,6.83],"nice":false,"zero":false,"padding":0},"axis":{"title":null,"values":[1.5,4,6],"ticks":false,"labelPadding":6,"labelFontSize":22,"labelColor":"#222","labelExpr":"datum.value == 1.5 ? 'Lamellar' : datum.value == 4 ? 'Brick-and-mortar' : '3Y-TZP'"}},
    "y":{"field":"mean","type":"quantitative","title":"Coefficient of friction","scale":{"domain":[0.2,0.7],"nice":false,"zero":false,"padding":0},"axis":{"title":"Coefficient of friction","values":[0.2,0.3,0.4,0.5,0.6,0.7],"labelExpr":"round(datum.value*10) % 2 === 0 ? format(datum.value, '.1f') : ''","titlePadding":6}},
    "y2":{"datum":0.2},
    "fill":{"field":"group","type":"nominal","scale":{"domain":["Lamellar","Brick-and-mortar","3Y-TZP"],"range":["#9898DC","#FF6464","#C8C8C8"]},"legend":null}}},
  {"transform":[{"filter":"datum.pos == 2"}],
   "mark":{"type":"bar","width":42,"stroke":"#222","strokeWidth":1.3,
    "fill":{"gradient":"linear","x1":0,"y1":1,"x2":0.2382,"y2":-0.1569,"stops":[
{"offset":0,"color":"#9898DC"},{"offset":0.0355,"color":"#9898DC"},{"offset":0.0355,"color":"#1a1a1a"},{"offset":0.0455,"color":"#1a1a1a"},
{"offset":0.0455,"color":"#9898DC"},{"offset":0.0809,"color":"#9898DC"},{"offset":0.0809,"color":"#1a1a1a"},{"offset":0.0909,"color":"#1a1a1a"},
{"offset":0.0909,"color":"#9898DC"},{"offset":0.1264,"color":"#9898DC"},{"offset":0.1264,"color":"#1a1a1a"},{"offset":0.1364,"color":"#1a1a1a"},
{"offset":0.1364,"color":"#9898DC"},{"offset":0.1718,"color":"#9898DC"},{"offset":0.1718,"color":"#1a1a1a"},{"offset":0.1818,"color":"#1a1a1a"},
{"offset":0.1818,"color":"#9898DC"},{"offset":0.2173,"color":"#9898DC"},{"offset":0.2173,"color":"#1a1a1a"},{"offset":0.2273,"color":"#1a1a1a"},
{"offset":0.2273,"color":"#9898DC"},{"offset":0.2627,"color":"#9898DC"},{"offset":0.2627,"color":"#1a1a1a"},{"offset":0.2727,"color":"#1a1a1a"},
{"offset":0.2727,"color":"#9898DC"},{"offset":0.3082,"color":"#9898DC"},{"offset":0.3082,"color":"#1a1a1a"},{"offset":0.3182,"color":"#1a1a1a"},
{"offset":0.3182,"color":"#9898DC"},{"offset":0.3536,"color":"#9898DC"},{"offset":0.3536,"color":"#1a1a1a"},{"offset":0.3636,"color":"#1a1a1a"},
{"offset":0.3636,"color":"#9898DC"},{"offset":0.3991,"color":"#9898DC"},{"offset":0.3991,"color":"#1a1a1a"},{"offset":0.4091,"color":"#1a1a1a"},
{"offset":0.4091,"color":"#9898DC"},{"offset":0.4445,"color":"#9898DC"},{"offset":0.4445,"color":"#1a1a1a"},{"offset":0.4545,"color":"#1a1a1a"},
{"offset":0.4545,"color":"#9898DC"},{"offset":0.49,"color":"#9898DC"},{"offset":0.49,"color":"#1a1a1a"},{"offset":0.5,"color":"#1a1a1a"},
{"offset":0.5,"color":"#9898DC"},{"offset":0.5355,"color":"#9898DC"},{"offset":0.5355,"color":"#1a1a1a"},{"offset":0.5455,"color":"#1a1a1a"},
{"offset":0.5455,"color":"#9898DC"},{"offset":0.5809,"color":"#9898DC"},{"offset":0.5809,"color":"#1a1a1a"},{"offset":0.5909,"color":"#1a1a1a"},
{"offset":0.5909,"color":"#9898DC"},{"offset":0.6264,"color":"#9898DC"},{"offset":0.6264,"color":"#1a1a1a"},{"offset":0.6364,"color":"#1a1a1a"},
{"offset":0.6364,"color":"#9898DC"},{"offset":0.6718,"color":"#9898DC"},{"offset":0.6718,"color":"#1a1a1a"},{"offset":0.6818,"color":"#1a1a1a"},
{"offset":0.6818,"color":"#9898DC"},{"offset":0.7173,"color":"#9898DC"},{"offset":0.7173,"color":"#1a1a1a"},{"offset":0.7273,"color":"#1a1a1a"},
{"offset":0.7273,"color":"#9898DC"},{"offset":0.7627,"color":"#9898DC"},{"offset":0.7627,"color":"#1a1a1a"},{"offset":0.7727,"color":"#1a1a1a"},
{"offset":0.7727,"color":"#9898DC"},{"offset":0.8082,"color":"#9898DC"},{"offset":0.8082,"color":"#1a1a1a"},{"offset":0.8182,"color":"#1a1a1a"},
{"offset":0.8182,"color":"#9898DC"},{"offset":0.8536,"color":"#9898DC"},{"offset":0.8536,"color":"#1a1a1a"},{"offset":0.8636,"color":"#1a1a1a"},
{"offset":0.8636,"color":"#9898DC"},{"offset":0.8991,"color":"#9898DC"},{"offset":0.8991,"color":"#1a1a1a"},{"offset":0.9091,"color":"#1a1a1a"},
{"offset":0.9091,"color":"#9898DC"},{"offset":0.9445,"color":"#9898DC"},{"offset":0.9445,"color":"#1a1a1a"},{"offset":0.9545,"color":"#1a1a1a"},
{"offset":0.9545,"color":"#9898DC"},{"offset":0.99,"color":"#9898DC"},{"offset":0.99,"color":"#1a1a1a"},{"offset":1,"color":"#1a1a1a"}
    ]}},
   "encoding":{"x":{"field":"pos","type":"quantitative"},"y":{"field":"mean","type":"quantitative","title":"Coefficient of friction"},"y2":{"datum":0.2}}},
  {"transform":[{"filter":"datum.pos == 4.5"}],
   "mark":{"type":"bar","width":42,"stroke":"#222","strokeWidth":1.3,
    "fill":{"gradient":"linear","x1":0,"y1":1,"x2":0.1925,"y2":-0.1368,"stops":[
{"offset":0,"color":"#FF6464"},{"offset":0.03,"color":"#FF6464"},{"offset":0.03,"color":"#1a1a1a"},{"offset":0.0385,"color":"#1a1a1a"},
{"offset":0.0385,"color":"#FF6464"},{"offset":0.0685,"color":"#FF6464"},{"offset":0.0685,"color":"#1a1a1a"},{"offset":0.0769,"color":"#1a1a1a"},
{"offset":0.0769,"color":"#FF6464"},{"offset":0.1069,"color":"#FF6464"},{"offset":0.1069,"color":"#1a1a1a"},{"offset":0.1154,"color":"#1a1a1a"},
{"offset":0.1154,"color":"#FF6464"},{"offset":0.1454,"color":"#FF6464"},{"offset":0.1454,"color":"#1a1a1a"},{"offset":0.1538,"color":"#1a1a1a"},
{"offset":0.1538,"color":"#FF6464"},{"offset":0.1838,"color":"#FF6464"},{"offset":0.1838,"color":"#1a1a1a"},{"offset":0.1923,"color":"#1a1a1a"},
{"offset":0.1923,"color":"#FF6464"},{"offset":0.2223,"color":"#FF6464"},{"offset":0.2223,"color":"#1a1a1a"},{"offset":0.2308,"color":"#1a1a1a"},
{"offset":0.2308,"color":"#FF6464"},{"offset":0.2608,"color":"#FF6464"},{"offset":0.2608,"color":"#1a1a1a"},{"offset":0.2692,"color":"#1a1a1a"},
{"offset":0.2692,"color":"#FF6464"},{"offset":0.2992,"color":"#FF6464"},{"offset":0.2992,"color":"#1a1a1a"},{"offset":0.3077,"color":"#1a1a1a"},
{"offset":0.3077,"color":"#FF6464"},{"offset":0.3377,"color":"#FF6464"},{"offset":0.3377,"color":"#1a1a1a"},{"offset":0.3462,"color":"#1a1a1a"},
{"offset":0.3462,"color":"#FF6464"},{"offset":0.3762,"color":"#FF6464"},{"offset":0.3762,"color":"#1a1a1a"},{"offset":0.3846,"color":"#1a1a1a"},
{"offset":0.3846,"color":"#FF6464"},{"offset":0.4146,"color":"#FF6464"},{"offset":0.4146,"color":"#1a1a1a"},{"offset":0.4231,"color":"#1a1a1a"},
{"offset":0.4231,"color":"#FF6464"},{"offset":0.4531,"color":"#FF6464"},{"offset":0.4531,"color":"#1a1a1a"},{"offset":0.4615,"color":"#1a1a1a"},
{"offset":0.4615,"color":"#FF6464"},{"offset":0.4915,"color":"#FF6464"},{"offset":0.4915,"color":"#1a1a1a"},{"offset":0.5,"color":"#1a1a1a"},
{"offset":0.5,"color":"#FF6464"},{"offset":0.53,"color":"#FF6464"},{"offset":0.53,"color":"#1a1a1a"},{"offset":0.5385,"color":"#1a1a1a"},
{"offset":0.5385,"color":"#FF6464"},{"offset":0.5685,"color":"#FF6464"},{"offset":0.5685,"color":"#1a1a1a"},{"offset":0.5769,"color":"#1a1a1a"},
{"offset":0.5769,"color":"#FF6464"},{"offset":0.6069,"color":"#FF6464"},{"offset":0.6069,"color":"#1a1a1a"},{"offset":0.6154,"color":"#1a1a1a"},
{"offset":0.6154,"color":"#FF6464"},{"offset":0.6454,"color":"#FF6464"},{"offset":0.6454,"color":"#1a1a1a"},{"offset":0.6538,"color":"#1a1a1a"},
{"offset":0.6538,"color":"#FF6464"},{"offset":0.6838,"color":"#FF6464"},{"offset":0.6838,"color":"#1a1a1a"},{"offset":0.6923,"color":"#1a1a1a"},
{"offset":0.6923,"color":"#FF6464"},{"offset":0.7223,"color":"#FF6464"},{"offset":0.7223,"color":"#1a1a1a"},{"offset":0.7308,"color":"#1a1a1a"},
{"offset":0.7308,"color":"#FF6464"},{"offset":0.7608,"color":"#FF6464"},{"offset":0.7608,"color":"#1a1a1a"},{"offset":0.7692,"color":"#1a1a1a"},
{"offset":0.7692,"color":"#FF6464"},{"offset":0.7992,"color":"#FF6464"},{"offset":0.7992,"color":"#1a1a1a"},{"offset":0.8077,"color":"#1a1a1a"},
{"offset":0.8077,"color":"#FF6464"},{"offset":0.8377,"color":"#FF6464"},{"offset":0.8377,"color":"#1a1a1a"},{"offset":0.8462,"color":"#1a1a1a"},
{"offset":0.8462,"color":"#FF6464"},{"offset":0.8762,"color":"#FF6464"},{"offset":0.8762,"color":"#1a1a1a"},{"offset":0.8846,"color":"#1a1a1a"},
{"offset":0.8846,"color":"#FF6464"},{"offset":0.9146,"color":"#FF6464"},{"offset":0.9146,"color":"#1a1a1a"},{"offset":0.9231,"color":"#1a1a1a"},
{"offset":0.9231,"color":"#FF6464"},{"offset":0.9531,"color":"#FF6464"},{"offset":0.9531,"color":"#1a1a1a"},{"offset":0.9615,"color":"#1a1a1a"},
{"offset":0.9615,"color":"#FF6464"},{"offset":0.9915,"color":"#FF6464"},{"offset":0.9915,"color":"#1a1a1a"},{"offset":1,"color":"#1a1a1a"}
    ]}},
   "encoding":{"x":{"field":"pos","type":"quantitative"},"y":{"field":"mean","type":"quantitative","title":"Coefficient of friction"},"y2":{"datum":0.2}}},
  {"mark":{"type":"errorbar","ticks":{"size":9},"color":"#222","thickness":1.4},
   "encoding":{"x":{"field":"pos","type":"quantitative"},"y":{"field":"lo","type":"quantitative","title":"Coefficient of friction"},"y2":{"field":"hi"}}},
  {"transform":[{"filter":"datum.dir !== ''"}],
   "mark":{"type":"text","fontSize":24,"baseline":"middle","align":"center","color":"#1c1c30"},
   "encoding":{"x":{"field":"pos","type":"quantitative"},"y":{"datum":0.367,"type":"quantitative"},"text":{"field":"dir"}}},
  {"transform":[{"filter":"indexof(datum.sig, '*') >= 0"}],
   "mark":{"type":"text","text":"*","fontSize":32,"fontWeight":"bold","baseline":"alphabetic","align":"center","dy":4,"color":"#111"},
   "encoding":{"x":{"field":"pos","type":"quantitative"},"y":{"field":"hi","type":"quantitative","title":"Coefficient of friction"}}},
  {"transform":[{"filter":"indexof(datum.sig, '*') >= 0"}],
   "mark":{"type":"text","text":"#","fontSize":19,"baseline":"alphabetic","align":"center","dy":-26,"color":"#111"},
   "encoding":{"x":{"field":"pos","type":"quantitative"},"y":{"field":"hi","type":"quantitative","title":"Coefficient of friction"}}},
  {"transform":[{"filter":"indexof(datum.sig, '*') < 0"}],
   "mark":{"type":"text","text":"#","fontSize":19,"baseline":"alphabetic","align":"center","dy":-6,"color":"#111"},
   "encoding":{"x":{"field":"pos","type":"quantitative"},"y":{"field":"hi","type":"quantitative","title":"Coefficient of friction"}}},
  {"data":{"values":[{}]},"mark":{"type":"text","text":"(d)","font":"Liberation Serif","fontSize":28,"align":"left","baseline":"middle","color":"#111"},
   "encoding":{"x":{"datum":-0.5685,"type":"quantitative"},"y":{"datum":0.6779,"type":"quantitative"}}}
 ]
}
]
}
